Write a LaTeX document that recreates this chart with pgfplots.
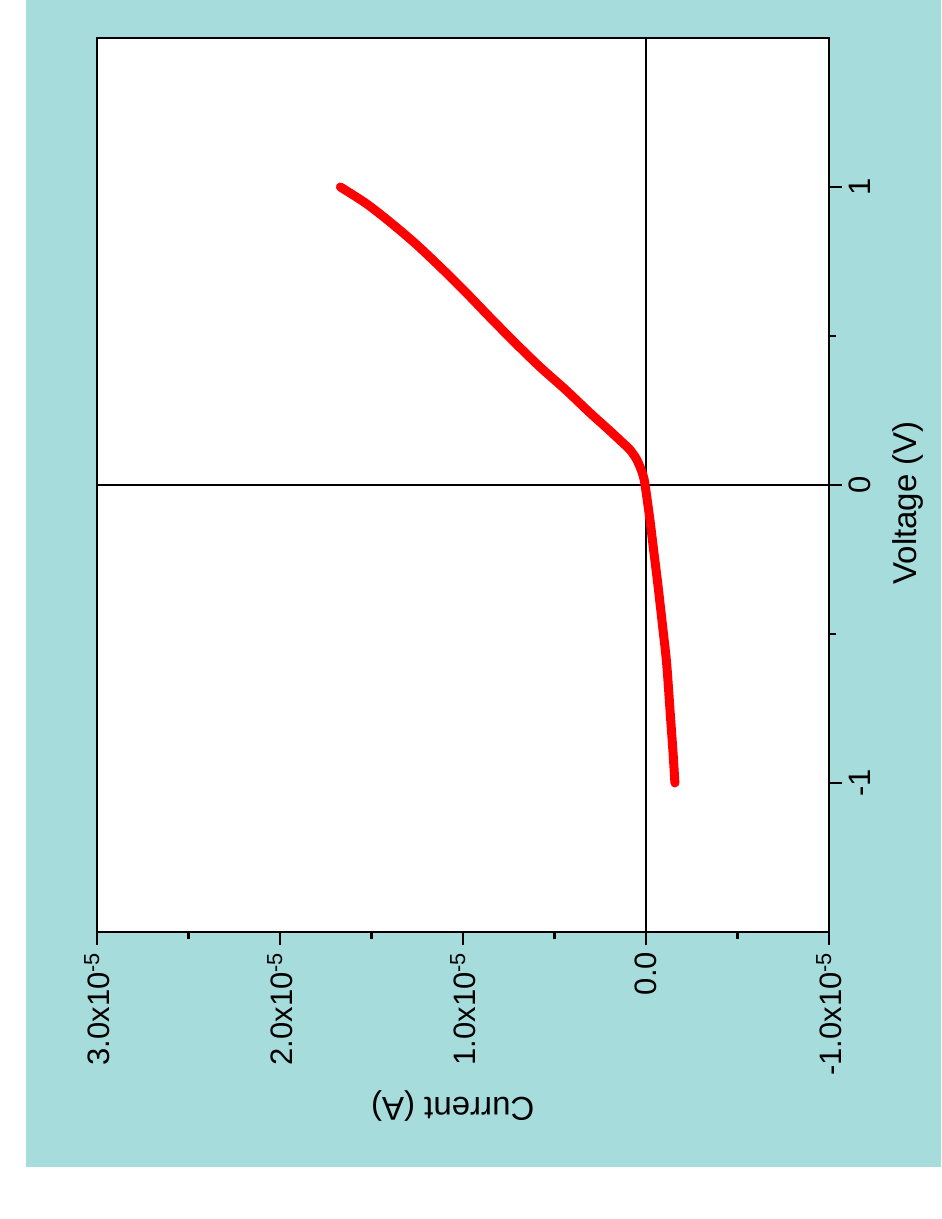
\documentclass[border=0pt]{standalone}
\usepackage{fontspec}
\setmainfont{Liberation Sans}
\usepackage{pgfplots}
\pgfplotsset{compat=1.18}
\definecolor{bgcyan}{RGB}{166,220,220}
\definecolor{curvered}{RGB}{255,0,0}

\begin{document}
\begin{tikzpicture}
% page and coloured backdrop
\fill[white] (-48.5pt,-143.5pt) rectangle (422pt,466pt);
\fill[bgcyan] (-35.5pt,-117.5pt) rectangle (422pt,466pt);
\begin{axis}[
  at={(0,0)}, anchor=south west,
  scale only axis, width=366pt, height=447pt,
  x dir=reverse,
  xmin=-1e-5, xmax=3e-5, ymin=-1.5, ymax=1.5,
  scaled x ticks=false,
  axis background/.style={fill=white},
  axis line style={line width=1.3pt, black},
  tick style={line width=1.3pt, black},
  tick align=outside,
  major tick length=6.5pt, minor tick length=3.5pt,
  xtick pos=left, ytick pos=right,
  yticklabel pos=right,
  xtick={-1e-5,0,1e-5,2e-5,3e-5},
  xticklabels={-1.0x10\textsuperscript{-5},0.0,1.0x10\textsuperscript{-5},2.0x10\textsuperscript{-5},3.0x10\textsuperscript{-5}},
  minor xtick={-0.5e-5,0.5e-5,1.5e-5,2.5e-5},
  ytick={-1,0,1}, yticklabels={-1,0,1},
  minor ytick={-0.5,0.5},
  xticklabel style={rotate=90, anchor=east, font=\fontsize{15.5}{18}\selectfont},
  yticklabel style={rotate=90, anchor=north, font=\fontsize{15.5}{18}\selectfont},
  xlabel={Current (A)}, ylabel={Voltage (V)},
  every axis x label/.style={at={(axis description cs:0.486,-0.195)}, rotate=180, anchor=center, font=\fontsize{16.5}{19}\selectfont},
  every axis y label/.style={at={(axis description cs:1.108,0.48)}, rotate=90, anchor=center, font=\fontsize{16.5}{19}\selectfont},
]
\draw[line width=1pt, black] (axis cs:0,-1.5) -- (axis cs:0,1.5);
\draw[line width=1pt, black] (axis cs:3e-5,0) -- (axis cs:-1e-5,0);
\addplot[curvered, line width=4.5pt, line cap=round, line join=round, smooth] table[x=I, y=V] {
I V
-1.58e-6 -1.0
-1.48e-6 -0.9
-1.34e-6 -0.78
-1.13e-6 -0.6
-0.90e-6 -0.47
-0.66e-6 -0.34
-0.42e-6 -0.22
-0.20e-6 -0.11
0.05e-6 0.0
0.15e-6 0.03
0.32e-6 0.06
0.55e-6 0.09
0.90e-6 0.12
1.26e-6 0.141
2.12e-6 0.19
3.06e-6 0.242
4.40e-6 0.32
5.79e-6 0.396
7.20e-6 0.48
8.55e-6 0.564
9.90e-6 0.65
11.25e-6 0.732
12.60e-6 0.81
14.00e-6 0.883
15.30e-6 0.945
16.70e-6 1.0
};
\end{axis}
\end{tikzpicture}
\end{document}
